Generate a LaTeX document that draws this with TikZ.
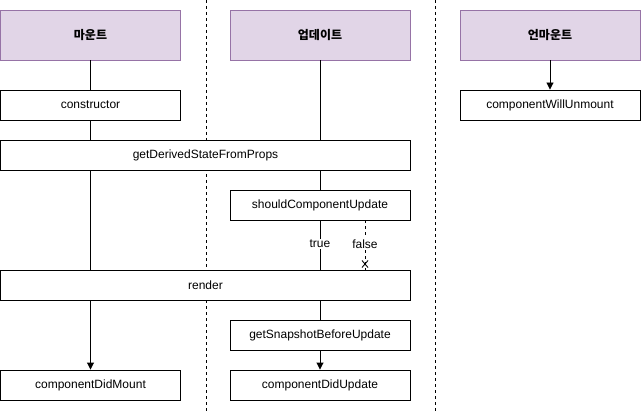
\documentclass[tikz,border=0pt]{standalone}
\usepackage{fontspec}
\setmainfont{Liberation Sans}
\newfontfamily\krfont{Noto Sans CJK KR}
\usetikzlibrary{arrows.meta}
\definecolor{hdrfill}{HTML}{E1D5E7}
\definecolor{hdrdraw}{HTML}{9673A6}
\begin{document}
\begin{tikzpicture}[x=1pt,y=-1pt,
  box/.style={draw=black,fill=white,line width=0.9pt,minimum height=30pt,inner sep=0pt,font=\fontsize{12}{14}\selectfont},
  hdr/.style={draw=hdrdraw,fill=hdrfill,line width=0.9pt,minimum height=50pt,minimum width=180pt,inner sep=0pt,font=\krfont\bfseries\fontsize{12}{14}\selectfont},
  conn/.style={line width=0.9pt},
  arr/.style={line width=0.9pt,-{Triangle[length=7pt,width=7pt]}},
  lbl/.style={fill=white,inner sep=1.5pt,font=\fontsize{12}{14}\selectfont},
  sep/.style={line width=0.9pt,dash pattern=on 3pt off 3pt}
]
\useasboundingbox (0,0) rectangle (641,412);
% separators
\draw[sep] (206,0) -- (206,412);
\draw[sep] (435.5,0) -- (435.5,412);
% headers
\node[hdr] (mount) at (90.5,35) {마운트};
\node[hdr] (update) at (320,35) {업데이트};
\node[hdr] (unmount) at (550,35) {언마운트};
% boxes
\node[box,minimum width=180pt] (ctor) at (90.5,105) {constructor};
\node[box,minimum width=410pt] (gdsfp) at (205.5,155) {getDerivedStateFromProps};
\node[box,minimum width=180pt] (scu) at (320,205) {shouldComponentUpdate};
\node[box,minimum width=410pt] (render) at (205.5,285) {render};
\node[box,minimum width=180pt] (gsbu) at (320,335) {getSnapshotBeforeUpdate};
\node[box,minimum width=180pt] (cdm) at (90.5,385) {componentDidMount};
\node[box,minimum width=180pt] (cdu) at (320,385) {componentDidUpdate};
\node[box,minimum width=180pt] (cwu) at (550,105) {componentWillUnmount};
% mount column
\draw[conn] (mount.south) -- (ctor.north);
\draw[conn] (ctor.south) -- (ctor.south |- gdsfp.north);
\draw[conn] (ctor.south |- gdsfp.south) -- (ctor.south |- render.north);
\draw[arr] (ctor.south |- render.south) -- (cdm.north);
% update column
\draw[conn] (update.south) -- (update.south |- gdsfp.north);
\draw[conn] (update.south |- gdsfp.south) -- (scu.north);
\draw[conn] (scu.south) -- node[lbl,pos=0.48] (truelbl) {true} (scu.south |- render.north);
\draw[conn] (scu.south |- render.south) -- (gsbu.north);
\draw[arr] (gsbu.south) -- (cdu.north);
% false branch
\coordinate (fs) at (365,220);
\coordinate (fe) at (365,270);
\draw[sep] (fs) -- node[lbl,pos=0.48] (falselbl) {false} (fe);
\coordinate (xc) at (365,264);
\draw[line width=0.9pt] ([shift={(-3,-3.5)}]xc) -- ([shift={(3,3.5)}]xc);
\draw[line width=0.9pt] ([shift={(3,-3.5)}]xc) -- ([shift={(-3,3.5)}]xc);
% unmount
\draw[arr] (unmount.south) -- (cwu.north);
\end{tikzpicture}
\end{document}
